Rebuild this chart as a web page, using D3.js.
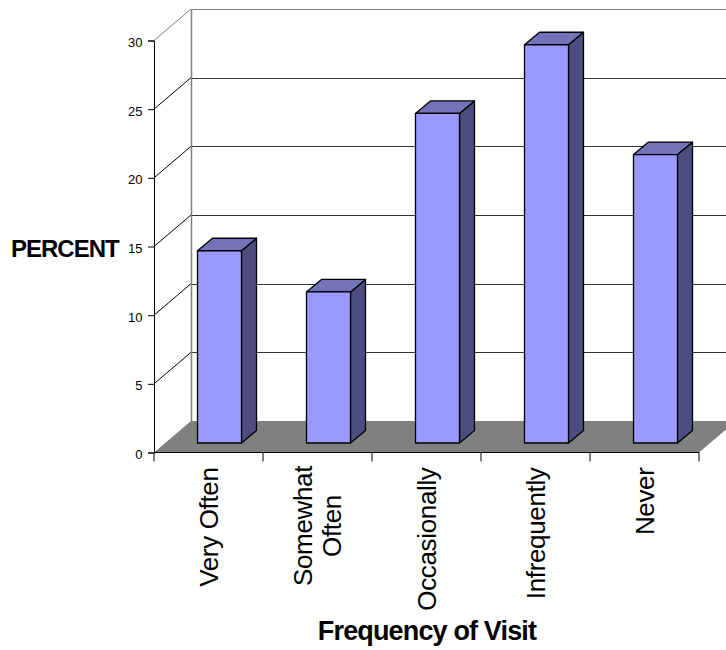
<!DOCTYPE html>
<html>
<head>
<meta charset="utf-8">
<style>
  body { margin: 0; background: #fff; }
  svg { display: block; }
  text { font-family: "Liberation Sans", Arial, sans-serif; fill: #000; }
</style>
<script src="https://cdn.jsdelivr.net/npm/d3@7"></script>
</head>
<body>
<div id="chart"></div>
<script>
const categories = ["Very Often", "Somewhat Often", "Occasionally", "Infrequently", "Never"];
const percents = [14, 11, 24, 29, 21];
const yTicks = [0, 5, 10, 15, 20, 25, 30];
const catLines = [["Very Often"], ["Somewhat", "Often"], ["Occasionally"], ["Infrequently"], ["Never"]];

const width = 726;
const height = 650;

const svg = d3.select("#chart").append("svg")
  .attr("width", width)
  .attr("height", height);

// front plane of the 3D box
const xScale = d3.scaleBand()
  .domain(categories)
  .range([154, 699]);

const yScale = d3.scaleLinear()
  .domain([0, 30])
  .range([452.5, 40.5]);

// how far the back wall sits from the front plane
const depthX = 37;
const depthY = -31.5;

// back wall and side wall lines
const wall = svg.append("g");

wall.append("polygon")
  .attr("points", [
    [xScale.range()[0], yScale(0)],
    [xScale.range()[1], yScale(0)],
    [xScale.range()[1] + depthX, yScale(0) + depthY],
    [xScale.range()[0] + depthX, yScale(0) + depthY]
  ].join(" "))
  .attr("fill", "#808080");

wall.selectAll("line.depth")
  .data(yTicks.slice(1))
  .enter()
  .append("line")
  .attr("class", "depth")
  .attr("x1", 154)
  .attr("y1", d => yScale(d))
  .attr("x2", 154 + depthX)
  .attr("y2", d => yScale(d) + depthY)
  .attr("stroke", d => d == 30 ? "#808080" : "#000")
  .attr("stroke-width", 1);

wall.selectAll("line.grid")
  .data(yTicks.slice(1))
  .enter()
  .append("line")
  .attr("class", "grid")
  .attr("x1", 154 + depthX)
  .attr("y1", d => Math.round(yScale(d) + depthY) + 0.5)
  .attr("x2", width)
  .attr("y2", d => Math.round(yScale(d) + depthY) + 0.5)
  .attr("stroke", d => d == 30 ? "#808080" : "#333")
  .attr("stroke-width", 1);

wall.append("line")
  .attr("x1", 154 + depthX + 0.5)
  .attr("y1", yScale(30) + depthY)
  .attr("x2", 154 + depthX + 0.5)
  .attr("y2", yScale(0) + depthY)
  .attr("stroke", "#808080")
  .attr("stroke-width", 1.5);

// axes
const axisy = d3.axisLeft(yScale)
  .tickValues(yTicks)
  .tickSize(6)
  .tickPadding(5.5);

const gy = svg.append("g")
  .attr("transform", "translate(154,0)")
  .call(axisy);

gy.selectAll("text")
  .style("font-size", "13px")
  .attr("dy", "0.47em");
gy.select(".domain").attr("stroke", "#000");

const gx = svg.append("g")
  .attr("transform", "translate(0," + yScale(0) + ")");

gx.append("line")
  .attr("x1", xScale.range()[0])
  .attr("x2", xScale.range()[1])
  .attr("stroke", "#000");

gx.selectAll("line.tick")
  .data(d3.range(categories.length + 1))
  .enter()
  .append("line")
  .attr("class", "tick")
  .attr("x1", d => xScale.range()[0] + d * xScale.step())
  .attr("x2", d => xScale.range()[0] + d * xScale.step())
  .attr("y1", 0)
  .attr("y2", 9)
  .attr("stroke", "#000");

// bars sit partway into the floor
const barWidth = 44;
const barShiftX = 11;
const barShiftY = -9.5;
const sideX = 15;
const sideY = -12.5;
const unit = yScale(0) - yScale(1);

const bars = svg.append("g")
  .selectAll("g")
  .data(percents)
  .enter()
  .append("g")
  .attr("stroke", "#000")
  .attr("stroke-width", 1.3)
  .attr("stroke-linejoin", "round");

const barLeft = (d, i) => xScale(categories[i]) + (xScale.step() - barWidth) / 2 + barShiftX;
const barBase = yScale(0) + barShiftY;
const barTop = d => barBase - d * unit;

// side face
bars.append("polygon")
  .attr("fill", "#4d4d80")
  .attr("points", (d, i) => {
    const r = barLeft(d, i) + barWidth;
    return [
      [r, barTop(d)],
      [r + sideX, barTop(d) + sideY],
      [r + sideX, barBase + sideY],
      [r, barBase]
    ].join(" ");
  });

// top face
bars.append("polygon")
  .attr("fill", "#7373b9")
  .attr("points", (d, i) => {
    const l = barLeft(d, i);
    return [
      [l, barTop(d)],
      [l + sideX, barTop(d) + sideY],
      [l + barWidth + sideX, barTop(d) + sideY],
      [l + barWidth, barTop(d)]
    ].join(" ");
  });

// front face
bars.append("rect")
  .attr("fill", "#9999ff")
  .attr("x", barLeft)
  .attr("y", barTop)
  .attr("width", barWidth)
  .attr("height", d => d * unit);

// category labels read bottom to top, hanging from the axis
const catLabels = svg.append("g")
  .selectAll("text")
  .data(catLines)
  .enter()
  .append("text")
  .attr("transform", (d, i) => "translate(" + (xScale(categories[i]) + xScale.step() / 2) + ",467.5) rotate(-90)")
  .attr("text-anchor", "end")
  .style("font-size", "26px")
  .style("letter-spacing", "-0.35px");

catLabels.each(function (lines) {
  const sel = d3.select(this);
  lines.forEach(function (line, i) {
    // two-line labels are centred on each other
    sel.append("tspan")
      .attr("x", lines.length > 1 ? -58.5 : 0)
      .attr("text-anchor", lines.length > 1 ? "middle" : "end")
      .attr("y", lines.length > 1 ? (i == 0 ? -5.5 : 23.5) : 9.5)
      .text(line);
  });
});

svg.append("text")
  .attr("x", 11)
  .attr("y", 257)
  .style("font-size", "24px")
  .style("font-weight", "bold")
  .style("letter-spacing", "-1px")
  .text("PERCENT");

svg.append("text")
  .attr("x", 427)
  .attr("y", 640)
  .attr("text-anchor", "middle")
  .style("font-size", "27px")
  .style("font-weight", "bold")
  .style("letter-spacing", "-0.85px")
  .text("Frequency of Visit");
</script>
</body>
</html>
